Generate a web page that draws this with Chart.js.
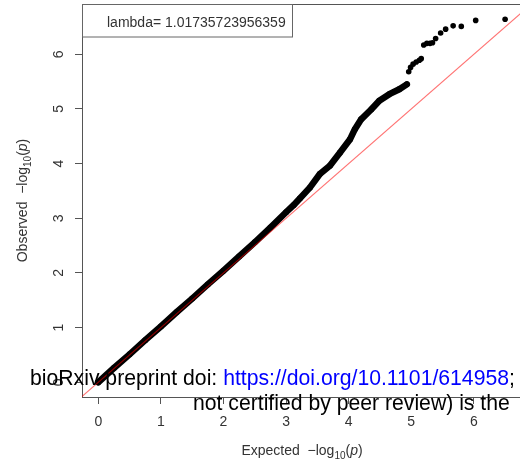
<!DOCTYPE html>
<html lang="en">
<head>
    <meta charset="UTF-8">
    <title>QQ plot</title>
    <script src="https://cdn.jsdelivr.net/npm/chart.js"></script>
    <style>
        body { margin: 0; background: #fff; }
        #wrap { position: relative; width: 520px; height: 468px; overflow: hidden; }
        #qq { display: block; }
        .wm {
            position: absolute;
            font-family: "Liberation Sans", Arial, sans-serif;
            font-size: 21.2px;
            line-height: 21px;
            white-space: nowrap;
            color: #000;
        }
        .wm .url { color: #0000ff; }
    </style>
</head>
<body>
    <div id="wrap">
        <canvas id="qq" width="526" height="468" style="width:526px;height:468px"></canvas>
        <div class="wm" style="left:30px;top:367px">bioRxiv preprint doi: <span class="url">https://doi.org/10.1101/614958</span>;</div>
        <div class="wm" style="left:193px;top:392px">not certified by peer review) is the</div>
    </div>
    <script>
        // expected vs observed -log10(p)
        const expectedDense = [0.00, 0.25, 0.50, 0.75, 1.00, 1.25, 1.50, 1.75, 2.00, 2.25, 2.50, 2.75, 3.00, 3.12, 3.22, 3.38, 3.54, 3.70, 3.86, 4.02, 4.10, 4.20, 4.36, 4.49, 4.65, 4.81, 4.93];
        const observedDense = [0.00, 0.26, 0.51, 0.77, 1.02, 1.28, 1.53, 1.79, 2.04, 2.30, 2.56, 2.83, 3.11, 3.24, 3.36, 3.56, 3.81, 3.96, 4.20, 4.44, 4.63, 4.81, 4.99, 5.15, 5.27, 5.36, 5.45];
        const expectedTail = [4.96, 4.99, 5.03, 5.08, 5.13, 5.16, 5.20, 5.25, 5.30, 5.34, 5.39, 5.47, 5.55, 5.67, 5.80, 6.03, 6.50];
        const observedTail = [5.68, 5.76, 5.82, 5.86, 5.89, 5.92, 6.17, 6.20, 6.20, 6.21, 6.29, 6.39, 6.46, 6.52, 6.51, 6.62, 6.64];
        const refLine = [-1, 8];   // y = x
        const xTicks = [0, 1, 2, 3, 4, 5, 6];
        const yTicks = [0, 1, 2, 3, 4, 5, 6];
        const lambdaText = 'lambda= 1.01735723956359';

        const FONT = '"Liberation Sans", Arial, Helvetica, sans-serif';
        const TEXT = '#333';

        const toPoints = (xs, ys) => xs.map((x, i) => ({ x: x, y: ys[i] }));

        // "<word>  -log10(p)" with subscript and italic p, centred on the origin
        function drawLogTitle(ctx, word) {
            const parts = [
                { t: word + '  \u2212log', f: '14px ' + FONT, dy: 0 },
                { t: '10', f: '10px ' + FONT, dy: 4 },
                { t: '(', f: '14px ' + FONT, dy: 0 },
                { t: 'p', f: 'italic 14px ' + FONT, dy: 0 },
                { t: ')', f: '14px ' + FONT, dy: 0 }
            ];
            let total = 0;
            parts.forEach(p => { ctx.font = p.f; p.w = ctx.measureText(p.t).width; total += p.w; });
            let x = -total / 2;
            ctx.textAlign = 'left';
            ctx.textBaseline = 'alphabetic';
            parts.forEach(p => { ctx.font = p.f; ctx.fillText(p.t, x, 5 + p.dy); x += p.w; });
        }

        // R style box, legend, tick labels and axis titles
        const rStyle = {
            id: 'rStyle',
            afterDraw(chart) {
                const ctx = chart.ctx;
                const a = chart.chartArea;
                const sx = chart.scales.x, sy = chart.scales.y;
                const L = Math.round(a.left) + 0.5, T = Math.round(a.top) + 0.5;
                const R = Math.round(a.right) + 0.5, B = Math.round(a.bottom) + 0.5;
                ctx.save();

                ctx.strokeStyle = '#555';
                ctx.lineWidth = 1;
                ctx.beginPath();
                ctx.moveTo(L, T);
                ctx.lineTo(R, T);
                ctx.lineTo(R, B);
                ctx.stroke();

                // legend box top-left
                ctx.strokeStyle = '#666';
                ctx.strokeRect(L, T, 210, 32.5);
                ctx.fillStyle = TEXT;
                ctx.font = '14px ' + FONT;
                ctx.textAlign = 'left';
                ctx.textBaseline = 'alphabetic';
                ctx.fillText(lambdaText, a.left + 25, a.top + 22.5);

                // x tick labels
                ctx.textAlign = 'center';
                sx.ticks.forEach(t => {
                    ctx.fillText(String(t.value), sx.getPixelForValue(t.value), a.bottom + 29);
                });
                // y tick labels, rotated as in R
                sy.ticks.forEach(t => {
                    ctx.save();
                    ctx.translate(a.left - 24, sy.getPixelForValue(t.value));
                    ctx.rotate(-Math.PI / 2);
                    ctx.fillText(String(t.value), 0, 5);
                    ctx.restore();
                });

                // axis titles
                ctx.save();
                ctx.translate((a.left + a.right) / 2, 450);
                drawLogTitle(ctx, 'Expected');
                ctx.restore();
                ctx.save();
                ctx.translate(22, (a.top + a.bottom) / 2);
                ctx.rotate(-Math.PI / 2);
                drawLogTitle(ctx, 'Observed');
                ctx.restore();

                ctx.restore();
            }
        };

        const axisCommon = {
            type: 'linear',
            grid: { drawOnChartArea: false, drawTicks: true, tickLength: 7, color: '#555' },
            border: { display: true, color: '#555', width: 1 },
            ticks: { display: false }
        };

        new Chart(document.getElementById('qq'), {
            type: 'scatter',
            data: {
                datasets: [
                    {
                        label: 'y = x',
                        data: toPoints(refLine, refLine),
                        showLine: true,
                        borderColor: 'rgba(255, 0, 0, 0.55)',
                        borderWidth: 1.2,
                        pointRadius: 0,
                        clip: 0,
                        order: 0
                    },
                    {
                        label: 'observed',
                        data: toPoints(expectedDense, observedDense),
                        showLine: true,
                        borderColor: '#000',
                        borderWidth: 6.5,
                        borderJoinStyle: 'round',
                        borderCapStyle: 'round',
                        pointRadius: 3,
                        pointBorderWidth: 0,
                        pointBackgroundColor: '#000',
                        order: 1
                    },
                    {
                        label: 'tail',
                        data: toPoints(expectedTail, observedTail),
                        pointRadius: 2.8,
                        pointBorderWidth: 0,
                        pointBackgroundColor: '#000',
                        order: 1
                    }
                ]
            },
            options: {
                responsive: false,
                animation: false,
                devicePixelRatio: 1,
                layout: { padding: { top: 3, right: 3, left: 0, bottom: 0 } },
                plugins: { legend: { display: false }, tooltip: { enabled: false } },
                scales: {
                    x: Object.assign({}, axisCommon, {
                        position: 'bottom',
                        min: -0.26, max: 6.77,
                        afterBuildTicks: s => { s.ticks = xTicks.map(v => ({ value: v })); },
                        afterFit: s => { s.height = 71; }
                    }),
                    y: Object.assign({}, axisCommon, {
                        position: 'left',
                        min: -0.27, max: 6.92,
                        afterBuildTicks: s => { s.ticks = yTicks.map(v => ({ value: v })); },
                        afterFit: s => { s.width = 82; }
                    })
                }
            },
            plugins: [rStyle]
        });
    </script>
</body>
</html>
